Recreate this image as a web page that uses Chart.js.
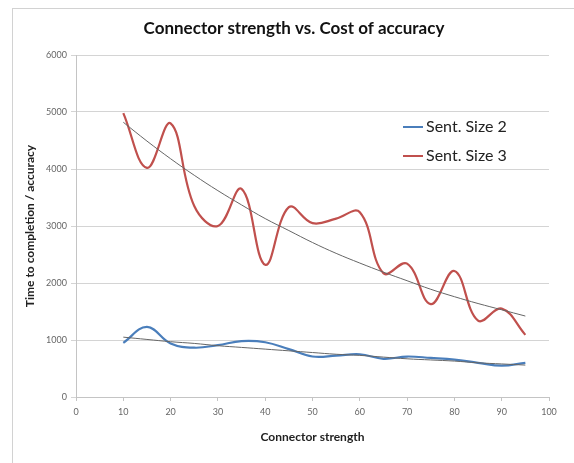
<!DOCTYPE html>
<html>
<head>
<meta charset="utf-8">
<script src="https://cdn.jsdelivr.net/npm/chart.js@4.4.1/dist/chart.umd.min.js"></script>
<style>
  html, body { margin: 0; padding: 0; background: #fff; overflow: hidden; }
  #frame { position: absolute; left: 12px; top: 8px; width: 600px; height: 500px; border: 1px solid #d2d2d2; }
  #wrap { position: absolute; left: 0; top: 0; width: 574px; height: 463px; }
</style>
</head>
<body>
<div id="frame"></div>
<div id="wrap"><canvas id="chart"></canvas></div>
<script>
const chartTitle = "Connector strength vs. Cost of accuracy";
const strength = [10, 15, 20, 25, 30, 35, 40, 45, 50, 55, 60, 65, 70, 75, 80, 85, 90, 95];
const sentSize2 = [950, 1230, 940, 865, 910, 980, 960, 840, 710, 725, 750, 670, 710, 685, 655, 600, 550, 600];
const sentSize3 = [4980, 4020, 4800, 3350, 3000, 3650, 2320, 3330, 3050, 3130, 3240, 2170, 2340, 1630, 2210, 1340, 1550, 1090];
// thin black trendlines
const trend2 = [1050, 1010, 970, 940, 900, 870, 840, 810, 780, 750, 730, 700, 670, 650, 630, 600, 580, 560];
const trend3 = [4820, 4490, 4180, 3890, 3620, 3370, 3130, 2920, 2710, 2520, 2350, 2190, 2040, 1890, 1760, 1640, 1530, 1420];

const toPoints = ys => strength.map((x, i) => ({ x: x, y: ys[i] }));

// title and the floating legend, drawn like excel does
const excelBits = {
  id: "excelBits",
  afterDraw(chart) {
    const ctx = chart.ctx;
    ctx.save();
    ctx.fillStyle = "#111";
    ctx.font = "bold 17px Lato";
    ctx.textAlign = "center";
    ctx.textBaseline = "middle";
    ctx.fillText(chartTitle, 294, 29);

    ctx.font = "16px Lato";
    ctx.textAlign = "left";
    chart.data.datasets.filter(d => !d.isTrend).forEach((d, i) => {
      const y = 127 + i * 29;
      ctx.strokeStyle = d.borderColor;
      ctx.lineWidth = 2;
      ctx.beginPath();
      ctx.moveTo(403, y);
      ctx.lineTo(423, y);
      ctx.stroke();
      ctx.fillStyle = "#222";
      ctx.fillText(d.label, 426, y);
    });
    ctx.restore();
  },
};

new Chart(document.getElementById("chart"), {
  type: "line",
  plugins: [excelBits],
  data: {
    datasets: [
      { label: "Sent. Size 2", data: toPoints(sentSize2), borderColor: "#4a7ebb", borderWidth: 2.2, order: 2 },
      { label: "Sent. Size 3", data: toPoints(sentSize3), borderColor: "#c0504d", borderWidth: 2.2, order: 2 },
      { label: "trend 2", isTrend: true, data: toPoints(trend2), borderColor: "#666", borderWidth: 1, order: 1 },
      { label: "trend 3", isTrend: true, data: toPoints(trend3), borderColor: "#666", borderWidth: 1, order: 1 },
    ],
  },
  options: {
    responsive: true,
    maintainAspectRatio: false,
    animation: false,
    layout: { padding: { left: 14, right: 25, top: 55, bottom: 0 } },
    elements: {
      point: { radius: 0 },
      line: { tension: 0.4, cubicInterpolationMode: "default" },
    },
    plugins: {
      legend: { display: false },
      tooltip: { enabled: false },
      title: { display: false },
    },
    scales: {
      x: {
        type: "linear",
        min: 0,
        max: 100,
        ticks: { stepSize: 10, color: "#666", font: { family: "Lato", size: 9 }, padding: 6, maxRotation: 0 },
        grid: { drawOnChartArea: false, tickLength: 4, color: "#c4c4c4" },
        border: { color: "#c4c4c4" },
        title: {
          display: true,
          text: "Connector strength",
          color: "#222",
          font: { family: "Lato", size: 12, weight: "bold" },
          padding: { top: 0, bottom: 19 },
        },
        afterFit: s => { s.height = 66; },
      },
      y: {
        min: 0,
        max: 6000,
        ticks: { stepSize: 1000, color: "#666", font: { family: "Lato", size: 9 }, padding: 4, callback: v => v },
        grid: { color: "#d4d4d4", tickLength: 5 },
        border: { color: "#c4c4c4" },
        title: {
          display: true,
          text: "Time to completion / accuracy",
          color: "#222",
          font: { family: "Lato", size: 12, weight: "bold" },
          padding: { top: 9, bottom: 0 },
        },
        afterFit: s => { s.width = 62; },
      },
    },
  },
});
</script>
</body>
</html>
